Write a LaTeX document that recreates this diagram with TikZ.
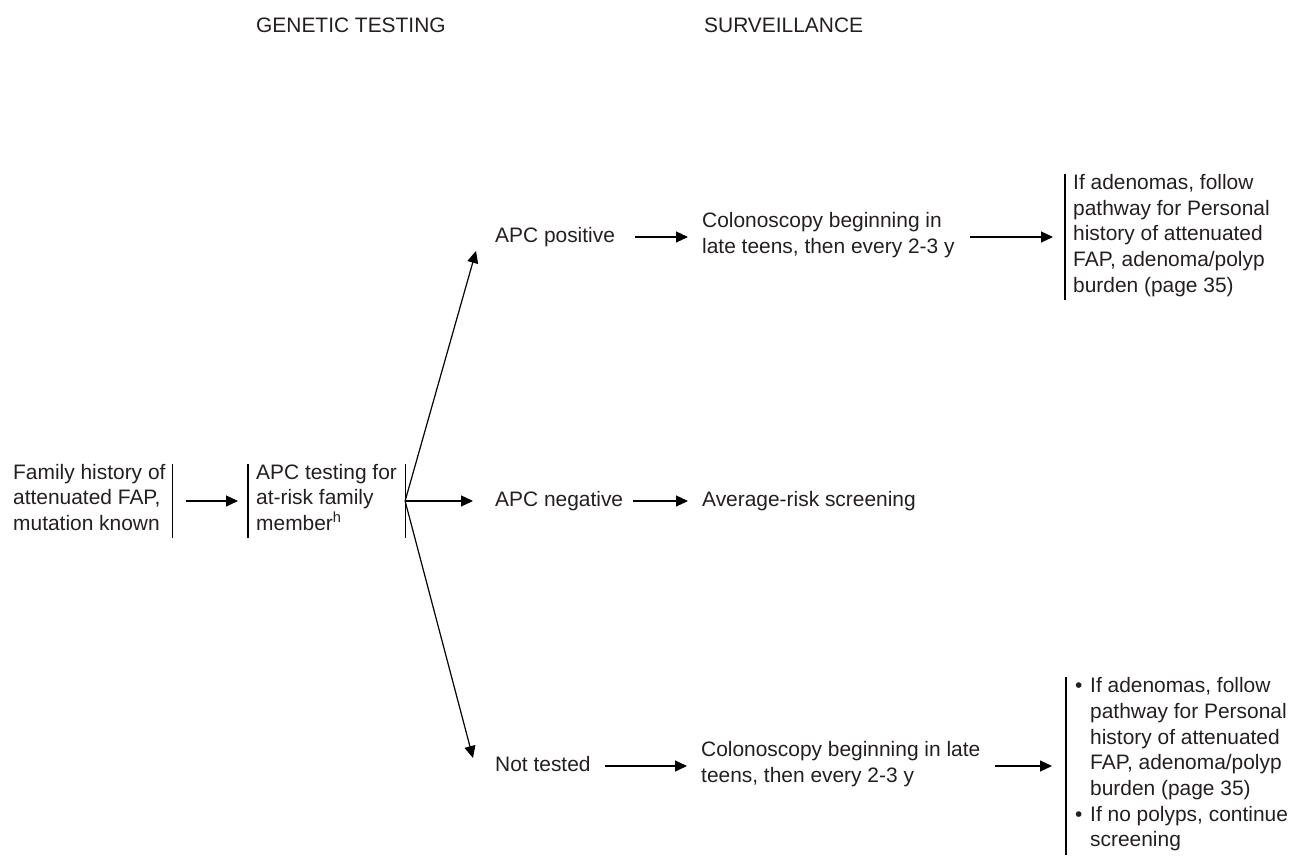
\documentclass[tikz,border=0pt]{standalone}
\usepackage{fontspec}
\setmainfont{Liberation Sans}
\usetikzlibrary{arrows.meta}
\definecolor{ink}{RGB}{35,31,32}
% bullet and hanging indent for the list box
\newcommand\itemmark{\makebox[15bp][l]{•}}
\newcommand\itemgap{\hspace*{15bp}}
\begin{document}
\begin{tikzpicture}[x=1bp,y=-1bp,
  txt/.style={font=\fontsize{21}{25.75}\selectfont, text=ink, align=left,
    inner xsep=0pt, inner ysep=0pt, anchor=west,
    execute at begin node=\strut, execute at end node=\strut},
  barbox/.style={txt, inner xsep=8bp},
  bar/.style={draw=black, line width=1.2bp},
  link/.style={draw=black, line width=1.2bp, -{Triangle[length=12bp,width=11bp]}}]

\path[use as bounding box] (0,0) rectangle (1294,856);

% column headings
\node[txt] (hgen) at (256,27) {GENETIC TESTING};
\node[txt] (hsur) at (704,27) {SURVEILLANCE};

% starting point and test
\node[txt, inner xsep=7bp] (fam) at (6,501) {Family history of\\attenuated FAP,\\mutation known};
\node[barbox] (apc) at (248,501) {APC testing for\\at-risk family\\member\textsuperscript{h}};

% test results
\node[txt] (pos) at (495,237) {APC positive};
\node[txt] (neg) at (495,501) {APC negative};
\node[txt] (nt)  at (495,766) {Not tested};

% surveillance
\node[txt] (col1) at (702,237) {Colonoscopy beginning in\\late teens, then every 2-3 y};
\node[txt] (avg)  at (702,501) {Average-risk screening};
\node[txt] (col3) at (701,766) {Colonoscopy beginning in late\\teens, then every 2-3 y};

% follow-up
\node[barbox] (fol1) at (1065,237) {If adenomas, follow\\pathway for Personal\\history of attenuated\\FAP, adenoma/polyp\\burden (page 35)};
\node[txt, inner xsep=9bp] (fol3) at (1066,766) {\itemmark If adenomas, follow\\\itemgap pathway for Personal\\\itemgap history of attenuated\\\itemgap FAP, adenoma/polyp\\\itemgap burden (page 35)\\\itemmark If no polyps, continue\\\itemgap screening};

% side bars
\draw[bar] (fam.north east) -- (fam.south east);
\draw[bar] (apc.north west) -- (apc.south west);
\draw[bar] (apc.north east) -- (apc.south east);
\draw[bar] (fol1.north west) -- (fol1.south west);
\draw[bar] (fol3.north west) -- (fol3.south west);

% connectors
\coordinate (posTip) at (476,251);
\coordinate (ntTip) at (473,758);
\draw[link, shorten <=13bp, shorten >=10bp] (fam.east) -- (apc.west);
\draw[link] (apc.east) -- (posTip);
\draw[link] (apc.east) -- (ntTip);
\draw[link, shorten >=22bp] (apc.east) -- (neg.west);
\draw[link, shorten <=20bp, shorten >=14bp] (pos.east) -- (col1.west);
\draw[link, shorten <=10bp, shorten >=14bp] (neg.east) -- (avg.west);
\draw[link, shorten <=14bp, shorten >=14bp] (nt.east) -- (col3.west);
\draw[link, shorten <=15bp, shorten >=12bp] (col1.east) -- (fol1.west);
\draw[link, shorten <=14bp, shorten >=14bp] (col3.east) -- (fol3.west);
\end{tikzpicture}
\end{document}
